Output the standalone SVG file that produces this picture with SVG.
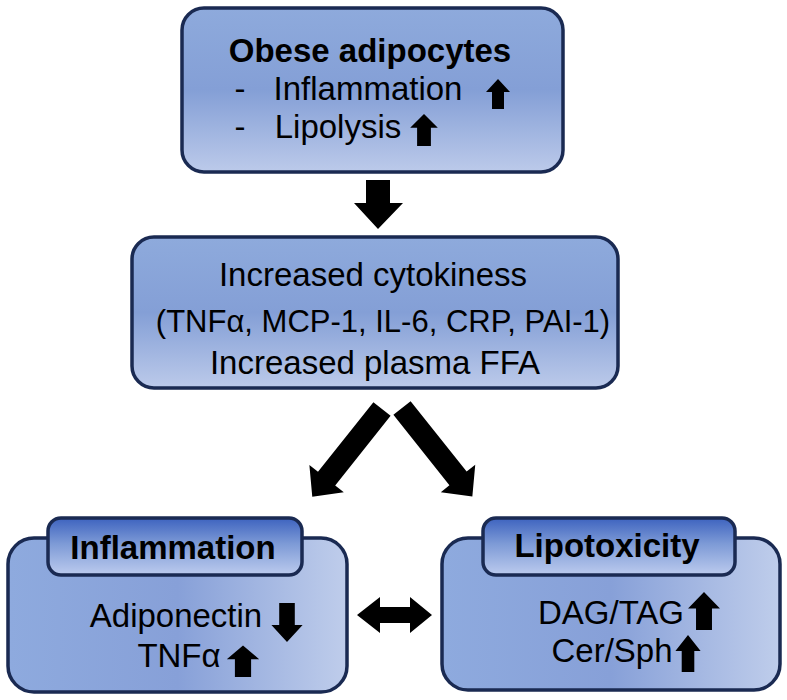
<svg xmlns="http://www.w3.org/2000/svg" width="787" height="700" viewBox="0 0 787 700">
<defs>
<linearGradient id="gv" x1="0" y1="0" x2="0" y2="1">
<stop offset="0" stop-color="#8eaadc"/>
<stop offset="0.5" stop-color="#849fd6"/>
<stop offset="1" stop-color="#bccaea"/>
</linearGradient>
<linearGradient id="gh" x1="0" y1="0" x2="1" y2="0">
<stop offset="0" stop-color="#8eaade"/>
<stop offset="0.5" stop-color="#87a0d8"/>
<stop offset="1" stop-color="#bfcdeb"/>
</linearGradient>
<linearGradient id="gt" x1="0" y1="0" x2="0" y2="1">
<stop offset="0" stop-color="#3d63bf"/>
<stop offset="0.45" stop-color="#7d9ad6"/>
<stop offset="1" stop-color="#bccbee"/>
</linearGradient>
<path id="up" d="M-6,0 L-6,-17 L-12,-17 L0,-30 L12,-17 L6,-17 L6,0 Z"/>
</defs>
<style>
.box{stroke:#1a2a52;stroke-width:3.5}
text{font-family:"Liberation Sans",Arial,sans-serif;fill:#000;text-anchor:middle}
.b{font-weight:bold;font-size:33px}
.r{font-size:33px}
.s{font-size:31px}
.ar{fill:#000}
</style>
<g id="obese">
<rect class="box" x="182" y="8" width="381" height="164" rx="22" fill="url(#gv)"/>
<text class="b" x="370" y="62">Obese adipocytes</text>
<text class="r" x="240" y="100">-</text>
<text class="r" x="368" y="100">Inflammation</text>
<use href="#up" class="ar" transform="translate(498,109) scale(1,1)"/>
<text class="r" x="240" y="138">-</text>
<text class="r" x="338" y="138">Lipolysis</text>
<use href="#up" class="ar" transform="translate(424,146) scale(1.15,1.07)"/>
</g>
<g id="cytokines">
<rect class="box" x="132" y="237" width="486" height="151" rx="22" fill="url(#gv)"/>
<text class="r" x="373" y="286">Increased cytokiness</text>
<text class="s" x="383" y="332">(TNFα, MCP-1, IL-6, CRP, PAI-1)</text>
<text class="r" x="375" y="374">Increased plasma FFA</text>
</g>
<g id="inflammation">
<rect class="box" x="8" y="538" width="339" height="154" rx="26" fill="url(#gh)"/>
<rect class="box" x="48" y="518" width="254" height="57" rx="13" fill="url(#gt)"/>
<text class="b" x="173" y="559">Inflammation</text>
<text class="r" x="176" y="627">Adiponectin</text>
<use href="#up" class="ar" transform="translate(287,603) scale(1.3,-1.3)"/>
<text class="r" x="179" y="667">TNFα</text>
<use href="#up" class="ar" transform="translate(243,677) scale(1.35,1.05)"/>
</g>
<g id="lipotoxicity">
<rect class="box" x="442" y="538" width="338" height="152" rx="26" fill="url(#gh)"/>
<rect class="box" x="483" y="518" width="252" height="57" rx="13" fill="url(#gt)"/>
<text class="b" x="607" y="557" font-size="34">Lipotoxicity</text>
<text class="r" x="611" y="624">DAG/TAG</text>
<use href="#up" class="ar" transform="translate(704,630) scale(1.33,1.27)"/>
<text class="r" x="612" y="662" font-size="34">Cer/Sph</text>
<use href="#up" class="ar" transform="translate(688,672) scale(1.05,1.23)"/>
</g>
<g id="connectors" class="ar">
<path d="M366,180 L390,180 L390,203 L403,203 L378,229 L354,203 L366,203 Z"/>
<path transform="translate(382,409) rotate(128.5)" d="M0,-11 L89,-11 L89,-22 L112,0 L89,22 L89,11 L0,11 Z"/>
<path transform="translate(402,408) rotate(51.5)" d="M0,-11 L90,-11 L90,-22 L113,0 L90,22 L90,11 L0,11 Z"/>
<path d="M357,615 L380,597 L380,607 L410,607 L410,597 L432,615 L410,633 L410,623 L380,623 L380,633 Z"/>
</g>
</svg>
